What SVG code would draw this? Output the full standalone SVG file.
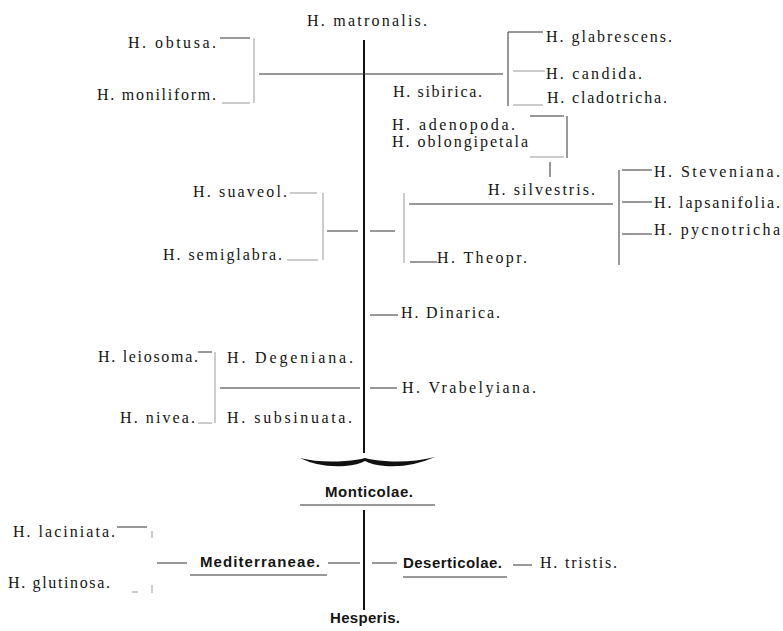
<svg xmlns="http://www.w3.org/2000/svg" width="783" height="631" viewBox="0 0 783 631">
<style>
.s{font-family:"Liberation Serif","Times New Roman",serif;font-size:16px;fill:#151515}
.g{font-family:"Liberation Sans",Arial,sans-serif;font-weight:bold;font-size:15px;fill:#151515}
.ln{stroke:#333;stroke-width:1;fill:none}
.lt{stroke:#999;stroke-width:1;fill:none}
.main{stroke:#111;stroke-width:2;fill:none}
</style>
<rect width="783" height="631" fill="#fff"/>
<g id="connectors">
<line class="main" x1="364" y1="40" x2="364" y2="453"/>
<line class="ln" x1="220" y1="38" x2="250" y2="38"/>
<line class="lt" x1="254" y1="38" x2="254" y2="103"/>
<line class="lt" x1="222" y1="103" x2="250" y2="103"/>
<line class="ln" x1="259" y1="74" x2="503" y2="74"/>
<line class="ln" x1="508" y1="32" x2="508" y2="106"/>
<line class="ln" x1="508" y1="32" x2="543" y2="32" stroke-width="1.6"/>
<line class="lt" x1="513" y1="71" x2="545" y2="71"/>
<line class="lt" x1="513" y1="105" x2="543" y2="105"/>
<line class="ln" x1="530" y1="116" x2="564" y2="116"/>
<line class="ln" x1="567" y1="116" x2="567" y2="158"/>
<line class="lt" x1="530" y1="157" x2="564" y2="157"/>
<line class="ln" x1="550" y1="162" x2="550" y2="177" stroke-width="1.4"/>
<line class="lt" x1="290" y1="193" x2="317" y2="193"/>
<line class="lt" x1="323" y1="193" x2="323" y2="260"/>
<line class="lt" x1="287" y1="260" x2="318" y2="260"/>
<line class="ln" x1="327" y1="231" x2="358" y2="231"/>
<line class="ln" x1="370" y1="231" x2="395" y2="231"/>
<line class="lt" x1="404" y1="193" x2="404" y2="263"/>
<line class="ln" x1="409" y1="204" x2="613" y2="204"/>
<line class="ln" x1="410" y1="262" x2="437" y2="262"/>
<line class="ln" x1="619" y1="170" x2="619" y2="265"/>
<line class="ln" x1="622" y1="170" x2="652" y2="170"/>
<line class="ln" x1="622" y1="202" x2="652" y2="202"/>
<line class="ln" x1="622" y1="234" x2="652" y2="234" stroke-width="1.4"/>
<line class="ln" x1="370" y1="315" x2="398" y2="315"/>
<line class="ln" x1="198" y1="352" x2="212" y2="352"/>
<line class="lt" x1="215" y1="352" x2="215" y2="423"/>
<line class="ln" x1="220" y1="388" x2="360" y2="388"/>
<line class="ln" x1="370" y1="388" x2="397" y2="388"/>
<line class="lt" x1="198" y1="423" x2="212" y2="423"/>
<path d="M300,458 Q320,468 345,466 Q358,465 365,461 Q372,465 385,466 Q410,468 435,457 Q410,463 385,461 Q372,460 365,458 Q358,460 345,461 Q320,463 300,458 Z" fill="#111"/>
<line class="ln" x1="300" y1="505" x2="435" y2="505"/>
<line class="main" x1="364" y1="510" x2="364" y2="610" stroke-width="1.4"/>
<line class="ln" x1="117" y1="527" x2="147" y2="527"/>
<line class="lt" x1="152" y1="531" x2="152" y2="538"/>
<line class="lt" x1="152" y1="585" x2="152" y2="593"/>
<line class="lt" x1="132" y1="592" x2="138" y2="592"/>
<line class="ln" x1="157" y1="563" x2="187" y2="563"/>
<line class="ln" x1="190" y1="575" x2="327" y2="575"/>
<line class="ln" x1="328" y1="563" x2="360" y2="563"/>
<line class="ln" x1="372" y1="563" x2="397" y2="563"/>
<line class="ln" x1="403" y1="577" x2="507" y2="577"/>
<line class="ln" x1="513" y1="565" x2="532" y2="565" stroke-width="1.4"/>
</g>
<g id="matronalis"><text class="s" x="307" y="26" textLength="120" lengthAdjust="spacing">H. matronalis.</text></g>
<g id="obtusa"><text class="s" x="128" y="48" textLength="88" lengthAdjust="spacing">H. obtusa.</text></g>
<g id="moniliform"><text class="s" x="97" y="100" textLength="119" lengthAdjust="spacing">H. moniliform.</text></g>
<g id="glabrescens"><text class="s" x="546" y="42" textLength="126" lengthAdjust="spacing">H. glabrescens.</text></g>
<g id="candida"><text class="s" x="546" y="79" textLength="96" lengthAdjust="spacing">H. candida.</text></g>
<g id="cladotricha"><text class="s" x="547" y="103" textLength="120" lengthAdjust="spacing">H. cladotricha.</text></g>
<g id="sibirica"><text class="s" x="393" y="97" textLength="89" lengthAdjust="spacing">H. sibirica.</text></g>
<g id="adenopoda"><text class="s" x="392" y="130" textLength="123" lengthAdjust="spacing">H. adenopoda.</text></g>
<g id="oblongipetala"><text class="s" x="392" y="147" textLength="136" lengthAdjust="spacing">H. oblongipetala</text></g>
<g id="silvestris"><text class="s" x="488" y="195" textLength="107" lengthAdjust="spacing">H. silvestris.</text></g>
<g id="steveniana"><text class="s" x="654" y="177" textLength="126" lengthAdjust="spacing">H. Steveniana.</text></g>
<g id="lapsanifolia"><text class="s" x="654" y="208" textLength="126" lengthAdjust="spacing">H. lapsanifolia.</text></g>
<g id="pycnotricha"><text class="s" x="654" y="235" textLength="126" lengthAdjust="spacing">H. pycnotricha</text></g>
<g id="suaveol"><text class="s" x="193" y="197" textLength="94" lengthAdjust="spacing">H. suaveol.</text></g>
<g id="semiglabra"><text class="s" x="163" y="260" textLength="119" lengthAdjust="spacing">H. semiglabra.</text></g>
<g id="theopr"><text class="s" x="437" y="263" textLength="90" lengthAdjust="spacing">H. Theopr.</text></g>
<g id="dinarica"><text class="s" x="401" y="318" textLength="99" lengthAdjust="spacing">H. Dinarica.</text></g>
<g id="leiosoma"><text class="s" x="98" y="362" textLength="100" lengthAdjust="spacing">H. leiosoma.</text></g>
<g id="degeniana"><text class="s" x="227" y="363" textLength="126" lengthAdjust="spacing">H. Degeniana.</text></g>
<g id="vrabelyiana"><text class="s" x="402" y="393" textLength="134" lengthAdjust="spacing">H. Vrabelyiana.</text></g>
<g id="nivea"><text class="s" x="120" y="423" textLength="75" lengthAdjust="spacing">H. nivea.</text></g>
<g id="subsinuata"><text class="s" x="227" y="423" textLength="125" lengthAdjust="spacing">H. subsinuata.</text></g>
<g id="monticolae"><text class="g" x="325" y="497" textLength="88" lengthAdjust="spacing">Monticolae.</text></g>
<g id="laciniata"><text class="s" x="13" y="537" textLength="102" lengthAdjust="spacing">H. laciniata.</text></g>
<g id="glutinosa"><text class="s" x="8" y="588" textLength="102" lengthAdjust="spacing">H. glutinosa.</text></g>
<g id="mediterraneae"><text class="g" x="200" y="567" textLength="120" lengthAdjust="spacing">Mediterraneae.</text></g>
<g id="deserticolae"><text class="g" x="403" y="568" textLength="99" lengthAdjust="spacing">Deserticolae.</text></g>
<g id="tristis"><text class="s" x="540" y="568" textLength="77" lengthAdjust="spacing">H. tristis.</text></g>
<g id="hesperis"><text class="g" x="330" y="623" textLength="70" lengthAdjust="spacing">Hesperis.</text></g>
</svg>
